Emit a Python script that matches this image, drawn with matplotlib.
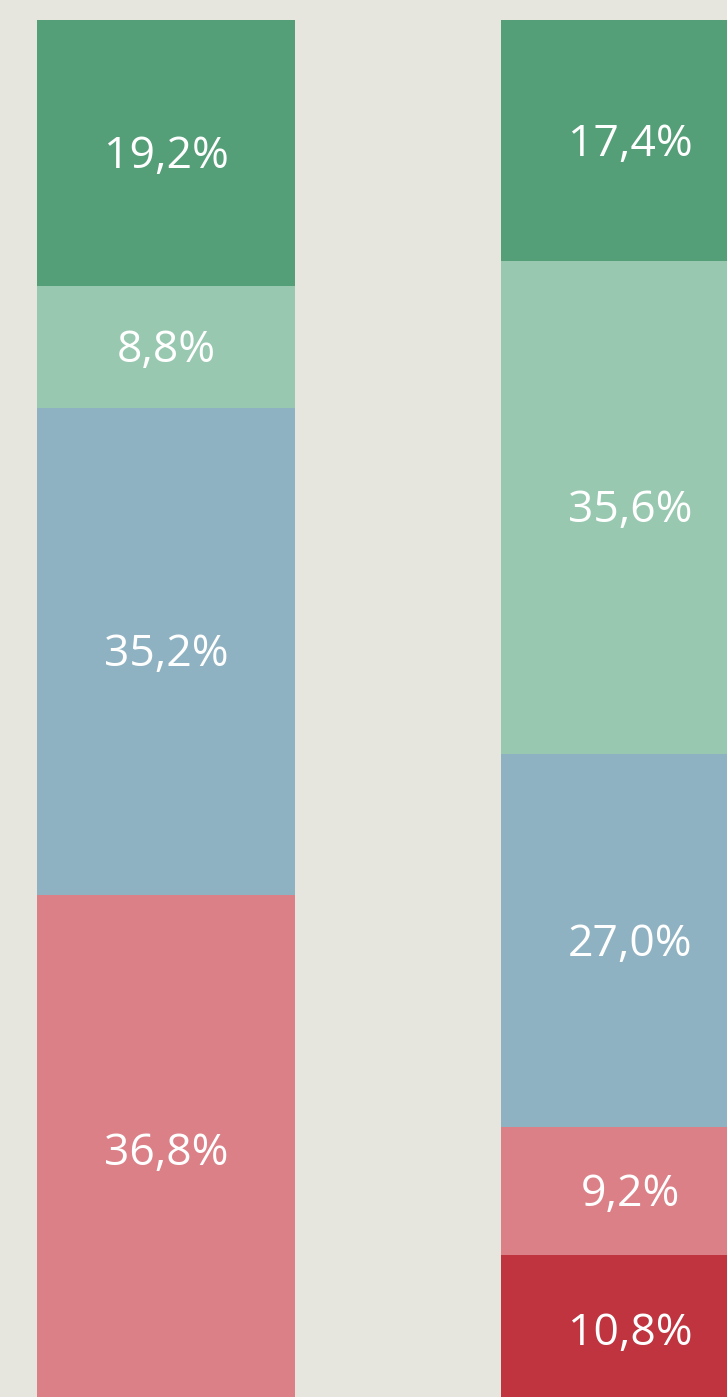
import matplotlib
matplotlib.use("Agg")
import matplotlib.pyplot as plt
from matplotlib.transforms import offset_copy

categories = ["A", "B"]
# stacked from bottom to top
seg_names = ["s1", "s2", "s3", "s4", "s5"]
left_values = [0.0, 36.8, 35.2, 8.8, 19.2]
right_values = [10.8, 9.2, 27.0, 35.6, 17.4]
colors = ["#C0343F", "#DC8088", "#8FB2C2", "#98C8AF", "#549E78"]
labels_left = ["", "36,8%", "35,2%", "8,8%", "19,2%"]
labels_right = ["10,8%", "9,2%", "27,0%", "35,6%", "17,4%"]

W, H = 727, 1397
fig = plt.figure(figsize=(W / 100, H / 100), dpi=100)
bg = "#E6E6DF"
fig.patch.set_facecolor(bg)
ax = fig.add_axes([0, 0, 1, 1])
ax.set_facecolor(bg)

xs = [0, 1]
pxu = 464.0
ax.set_xlim(-166 / pxu, (W - 166) / pxu)
ppp = 13.84
ax.set_ylim((1404 - H) / ppp, 100 + 20 / ppp)

width = 258 / pxu
tr = offset_copy(ax.transData, fig=fig, x=0, y=-4, units="dots")
for i in range(len(seg_names)):
    vals = [left_values[i], right_values[i]]
    bottoms = [sum(left_values[:i]), sum(right_values[:i])]
    ax.bar(xs, vals, bottom=bottoms, width=width, color=colors[i], linewidth=0)
    for x, v, b, lab in zip(xs, vals, bottoms, [labels_left[i], labels_right[i]]):
        if v > 0 and lab:
            ax.text(x, b + v / 2, lab, ha="center", va="center", color="white",
                    fontsize=32, family=["Open Sans", "DejaVu Sans"],
                    fontweight="normal", transform=tr)

ax.axis("off")
fig.savefig("out.png", dpi=100, facecolor=bg)
